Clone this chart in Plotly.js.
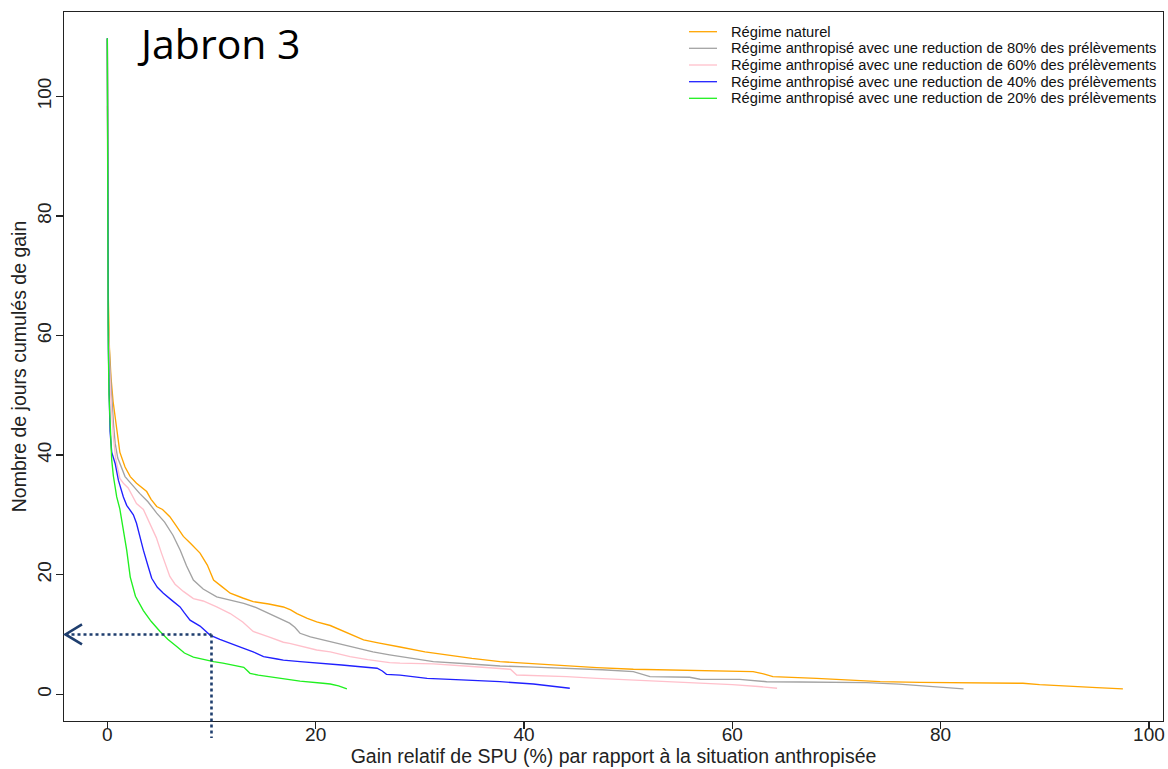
<!DOCTYPE html>
<html>
<head>
<meta charset="utf-8">
<script src="https://cdn.plot.ly/plotly-3.0.1.min.js"></script>
<style>html,body{margin:0;padding:0;background:#fff;}#chart{width:1168px;height:769px;}</style>
</head>
<body>
<div id="chart"></div>
<script>
// ---- Data ----
const seriesNames = [
  "Régime naturel",
  "Régime anthropisé avec une reduction de 80% des prélèvements",
  "Régime anthropisé avec une reduction de 60% des prélèvements",
  "Régime anthropisé avec une reduction de 40% des prélèvements",
  "Régime anthropisé avec une reduction de 20% des prélèvements"
];
const seriesColors = ["#FFA500", "#A3A3A3", "#FFC0CB", "#2020FF", "#20F020"];

const naturelX = [0, 0.03, 0.1, 0.2, 0.35, 0.55, 0.9, 1.2, 1.7, 2.2, 2.8, 3.3, 3.78, 4.2, 4.74, 5.3, 6.0, 6.6, 7.3, 8.0, 8.9, 9.6, 10.2, 11.0, 11.8, 13.0, 14.0, 15.5, 16.9, 17.6, 18.2, 19.2, 20.1, 21.4, 22.7, 23.7, 24.6, 26.0, 27.1, 28.1, 30.5, 32.9, 35.0, 37.7, 41.0, 44.1, 47.0, 50.5, 54.0, 56.9, 59.5, 62.0, 63.0, 63.9, 68.1, 71.0, 74.2, 78.0, 82.5, 87.9, 89.5, 91.5, 95.0, 97.5];
const naturelY = [109.6, 80, 66, 58, 53, 49, 44, 40.5, 38, 36.4, 35.3, 34.6, 33.9, 32.6, 31.4, 30.9, 29.7, 28.2, 26.4, 25.2, 23.6, 21.6, 19.1, 18.0, 16.9, 16.1, 15.5, 15.1, 14.6, 14.1, 13.5, 12.7, 12.1, 11.5, 10.5, 9.8, 9.1, 8.6, 8.2, 7.9, 7.1, 6.46, 6.0, 5.45, 5.1, 4.73, 4.45, 4.18, 4.05, 3.95, 3.85, 3.78, 3.4, 2.94, 2.67, 2.4, 2.11, 2.0, 1.94, 1.84, 1.6, 1.39, 1.1, 0.89];

const red80X = [0, 0.03, 0.1, 0.25, 0.4, 0.6, 0.75, 1.0, 1.7, 2.4, 3.1, 3.9, 4.74, 5.5, 6.3, 7.0, 7.6, 8.26, 9.2, 10.5, 11.8, 13.1, 14.3, 15.6, 16.5, 17.5, 18.0, 18.5, 19.5, 20.7, 22.2, 23.9, 25.5, 27.1, 28.1, 31.3, 34.5, 37.7, 41.0, 44.1, 47.5, 50.5, 51.3, 52.1, 55.9, 56.9, 60.7, 63.3, 66.5, 72.9, 76.0, 78.7, 82.2];
const red80Y = [109.7, 82, 62, 55, 50, 45, 42, 39.5, 36.4, 35.0, 33.6, 32.2, 30.3, 28.8, 26.6, 24.1, 21.5, 19.1, 17.6, 16.3, 15.7, 15.2, 14.5, 13.5, 12.8, 11.9, 11.2, 10.2, 9.6, 9.1, 8.4, 7.7, 7.1, 6.6, 6.3, 5.45, 5.1, 4.73, 4.55, 4.35, 4.1, 3.78, 3.3, 2.94, 2.84, 2.51, 2.5, 2.1, 2.05, 1.94, 1.7, 1.39, 0.89];

const red60X = [0, 0.03, 0.1, 0.2, 0.35, 0.58, 0.8, 1.2, 1.54, 2.0, 2.8, 3.46, 4.1, 4.7, 5.2, 5.6, 6.0, 6.5, 7.3, 8.26, 9.2, 10.5, 11.8, 13.0, 14.0, 15.5, 16.9, 17.5, 19.0, 20.1, 21.4, 23.3, 25.0, 27.1, 28.1, 31.3, 35.0, 38.7, 39.3, 41.5, 44.1, 47.0, 50.5, 53.5, 56.9, 60.0, 62.5, 64.3];
const red60Y = [98.4, 80, 62, 55, 49, 43, 39.5, 36.1, 35.3, 34.5, 31.9, 30.9, 28.6, 26.2, 23.6, 21.6, 19.7, 18.4, 17.2, 16.0, 15.6, 14.6, 13.5, 12.1, 10.5, 9.6, 8.7, 8.5, 7.9, 7.4, 7.1, 6.3, 5.8, 5.3, 5.2, 5.07, 4.65, 4.18, 3.23, 3.1, 2.94, 2.65, 2.39, 2.15, 1.94, 1.6, 1.3, 1.0];

const red40X = [0, 0.03, 0.1, 0.18, 0.26, 0.42, 0.75, 1.06, 1.54, 1.86, 2.2, 2.5, 2.8, 3.1, 3.46, 3.9, 4.26, 4.8, 5.38, 6.2, 6.98, 7.4, 7.94, 8.9, 9.86, 10.8, 11.8, 12.9, 14.0, 15.0, 16.3, 16.9, 18.5, 20.7, 22.5, 24.3, 25.9, 26.4, 26.8, 28.1, 30.7, 34.0, 37.7, 40.9, 42.5, 44.4];
const red40Y = [109.7, 75, 58, 50, 44, 40.5, 38.6, 35.8, 33.0, 31.6, 30.8, 30.0, 28.6, 26.4, 24.1, 21.5, 19.4, 17.9, 16.9, 15.7, 14.6, 13.6, 12.4, 11.4, 9.9, 9.2, 8.5, 7.8, 7.1, 6.3, 5.9, 5.7, 5.45, 5.2, 4.9, 4.6, 4.35, 3.9, 3.34, 3.2, 2.67, 2.4, 2.11, 1.72, 1.4, 1.0];

const red20X = [0, 0.03, 0.08, 0.16, 0.26, 0.42, 0.58, 0.9, 1.2, 1.54, 1.86, 2.2, 2.7, 3.46, 4.2, 5.06, 5.8, 6.66, 7.4, 8.26, 9.2, 10.2, 11.1, 12.2, 13.1, 13.4, 13.7, 14.5, 15.6, 16.5, 18.5, 20.7, 21.4, 22.2, 23.0];
const red20Y = [109.7, 80, 60, 50, 45.5, 39.2, 36.5, 33.0, 31.0, 27.5, 24.1, 19.6, 16.4, 14.0, 12.2, 10.5, 9.2, 8.0, 6.9, 6.2, 5.8, 5.45, 5.2, 4.8, 4.5, 4.0, 3.5, 3.2, 2.94, 2.67, 2.2, 1.84, 1.72, 1.4, 0.9];

const xTicks = [0, 20, 40, 60, 80, 100];
const yTicks = [0, 20, 40, 60, 80, 100];
const chartLabel = "Jabron 3";
const xTitle = "Gain relatif de SPU (%) par rapport à la situation anthropisée";
const yTitle = "Nombre de jours cumulés de gain";
const guideValue = {x: 10, y: 10};

// ---- Layout constants ----
const XR = [-4.16, 101.35];
const YR = [-4.47, 114.1];
const M = {l: 64, r: 5, t: 12, b: 48};
const W = 1168, H = 769;
const PW = W - M.l - M.r, PH = H - M.t - M.b;
const px = v => (v - XR[0]) / (XR[1] - XR[0]);
const py = v => (v - YR[0]) / (YR[1] - YR[0]);

const xs = [naturelX, red80X, red60X, red40X, red20X];
const ys = [naturelY, red80Y, red60Y, red40Y, red20Y];

const traces = xs.map((x, i) => ({
  type: "scatter", mode: "lines", x: x, y: ys[i], name: seriesNames[i],
  line: {color: seriesColors[i], width: 1.35}, showlegend: false, hoverinfo: "x+y+name"
}));

const guideColor = "#1F3E6E";
const shapes = [];
const annotations = [];

// dotted guide lines
shapes.push({type: "line", xref: "paper", yref: "paper", x0: px(XR[0]) + 1.5 / PW, x1: px(guideValue.x), y0: py(guideValue.y), y1: py(guideValue.y),
  line: {color: guideColor, width: 2.6, dash: "dot"}});
shapes.push({type: "line", xref: "paper", yref: "paper", x0: px(guideValue.x), x1: px(guideValue.x), y0: py(guideValue.y), y1: -17 / PH,
  line: {color: guideColor, width: 2.6, dash: "dot"}});
// open arrow head
shapes.push({type: "path", xref: "paper", yref: "paper",
  path: `M ${px(XR[0]) + 18 / PW},${py(guideValue.y) + 10 / PH} L ${px(XR[0]) + 1.5 / PW},${py(guideValue.y)} L ${px(XR[0]) + 18 / PW},${py(guideValue.y) - 10 / PH}`,
  line: {color: guideColor, width: 2.6}});

// manual legend
const legRowsPx = [31.7, 48.3, 65, 81.7, 98.3];
seriesNames.forEach((n, i) => {
  const yp = (H - M.b - legRowsPx[i]) / PH;
  shapes.push({type: "line", xref: "paper", yref: "paper", x0: (689 - M.l) / PW, x1: (717 - M.l) / PW, y0: yp, y1: yp,
    line: {color: seriesColors[i], width: 1.3}});
  annotations.push({xref: "paper", yref: "paper", x: (729 - M.l) / PW, y: yp, xanchor: "left", yanchor: "middle",
    text: n, showarrow: false, font: {family: "Liberation Sans, Arial, sans-serif", size: 14.7, color: "#111"}});
});

annotations.push({xref: "paper", yref: "paper", x: (135 - M.l) / PW, y: (H - M.b - 43) / PH, xanchor: "left", yanchor: "middle",
  text: chartLabel, showarrow: false, font: {family: "Open Sans, Lato, sans-serif", size: 41, color: "#000"}});

const axisFont = {family: "Liberation Sans, Arial, sans-serif", size: 19, color: "#222"};

const layout = {
  width: W, height: H,
  margin: M,
  paper_bgcolor: "#fff", plot_bgcolor: "#fff",
  showlegend: false,
  xaxis: {
    range: XR, tickvals: xTicks, ticktext: xTicks.map(String),
    showgrid: false, zeroline: false, showline: true, mirror: true, linecolor: "#222", linewidth: 1.3,
    ticks: "outside", ticklen: 7, tickwidth: 1.2, tickcolor: "#222", tickfont: axisFont, ticklabelstandoff: -11,
    title: {text: xTitle, font: {family: "Liberation Sans, Arial, sans-serif", size: 19.5, color: "#222"}, standoff: 3}
  },
  yaxis: {
    range: YR, tickvals: yTicks, ticktext: yTicks.map(String), tickangle: -90,
    showgrid: false, zeroline: false, showline: true, mirror: true, linecolor: "#222", linewidth: 1.3,
    ticks: "outside", ticklen: 7, tickwidth: 1.2, tickcolor: "#222", tickfont: axisFont, ticklabelstandoff: -3,
    title: {text: yTitle, font: {family: "Liberation Sans, Arial, sans-serif", size: 19.5, color: "#222"}, standoff: 2}
  },
  shapes: shapes,
  annotations: annotations
};

Plotly.newPlot("chart", traces, layout, {displayModeBar: false, staticPlot: true});
</script>
</body>
</html>
